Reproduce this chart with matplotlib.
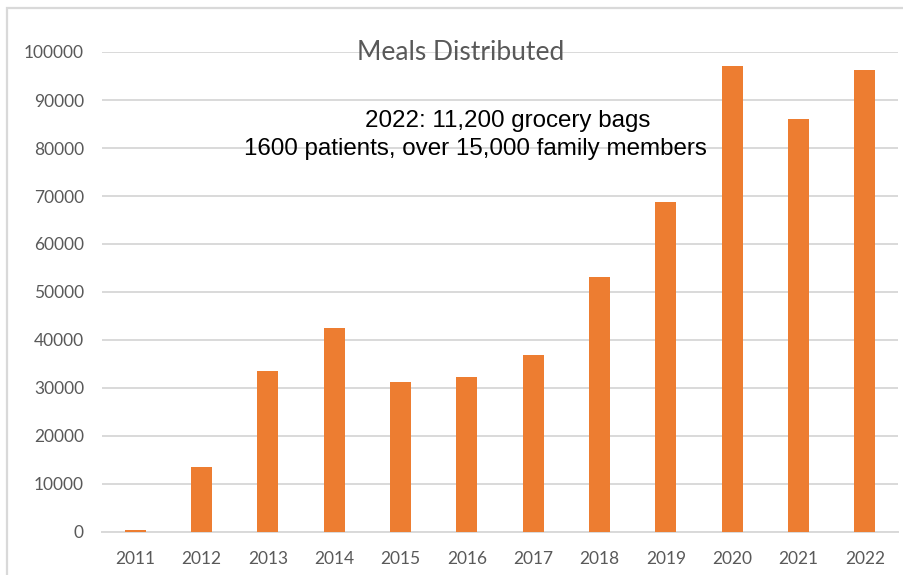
import matplotlib.pyplot as plt
from matplotlib.patches import Rectangle

# data
years = ['2011', '2012', '2013', '2014', '2015', '2016',
         '2017', '2018', '2019', '2020', '2021', '2022']
meals = [500, 13500, 33600, 42400, 31300, 32300,
         36900, 53200, 68800, 97100, 86000, 96200]
y_ticks = list(range(0, 100001, 10000))

title_text = 'Meals Distributed'
note_line1 = '2022: 11,200 grocery bags'
note_line2 = '1600 patients, over 15,000 family members'

bar_color = '#ED7D31'
grid_color = '#D9D9D9'
label_color = '#595959'

fig = plt.figure(figsize=(9.04, 5.75), dpi=100)

# chart area border (cropped on right and bottom like the screenshot)
fig.patches.append(Rectangle((7 / 904, -0.05), 1.1, (575 - 8) / 575 + 0.05,
                             transform=fig.transFigure, fill=False,
                             edgecolor=grid_color, linewidth=1.6))

ax = fig.add_axes([102 / 904, 43 / 575, 796 / 904, 480 / 575])
x = range(len(years))
ax.bar(x, meals, width=0.32, color=bar_color, zorder=3)

ax.set_xlim(-0.5, len(years) - 0.5)
ax.set_ylim(0, 100000)
ax.set_yticks(y_ticks)
ax.set_xticks(list(x))
ax.set_xticklabels(years)
ax.yaxis.grid(True, color=grid_color, linewidth=1.4, zorder=0)
ax.set_axisbelow(True)

for side in ['top', 'right', 'left']:
    ax.spines[side].set_visible(False)
ax.spines['bottom'].set_color(grid_color)
ax.spines['bottom'].set_linewidth(1.4)

ax.tick_params(axis='both', length=0, labelsize=12.5, labelcolor=label_color)
ax.tick_params(axis='y', pad=13)
ax.tick_params(axis='x', pad=14)
for lbl in ax.get_xticklabels() + ax.get_yticklabels():
    lbl.set_fontfamily('Lato')

fig.text(461 / 904, 1 - 53 / 575, title_text, ha='center', va='center',
         fontsize=19, color=label_color, family='Lato')
fig.text(508 / 904, 1 - 121 / 575, note_line1, ha='center', va='center',
         fontsize=17.4, color='black', family='Liberation Sans')
fig.text(475 / 904, 1 - 149 / 575, note_line2, ha='center', va='center',
         fontsize=17.4, color='black', family='Liberation Sans')

fig.savefig('out.png', dpi=100)
